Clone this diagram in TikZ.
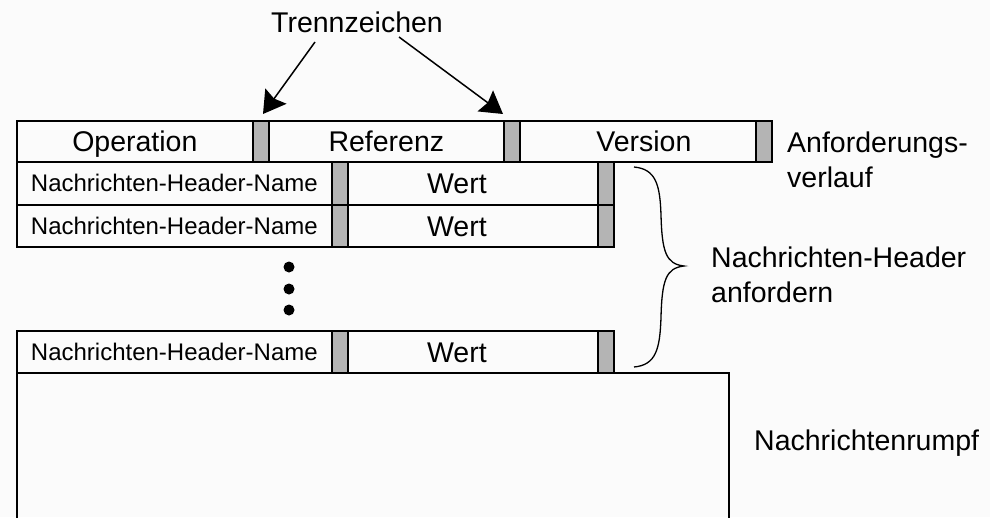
\documentclass[tikz,border=0pt]{standalone}
\usepackage{fontspec}
\setmainfont{Liberation Sans}
\usetikzlibrary{arrows.meta}
\definecolor{sepgray}{RGB}{180,180,180}
\definecolor{bgcol}{RGB}{251,251,251}
\newcommand\myfontbig{\fontsize{28.5}{35}\selectfont}
\newcommand\myfontsmall{\fontsize{24}{28}\selectfont}
\begin{document}
\begin{tikzpicture}[x=1pt,y=-1pt,
  cell/.style={draw=black, line width=1.7pt, inner sep=0pt, anchor=north west, font=\myfontbig, text height=20.5pt, text depth=0pt},
  namecell/.style={cell, font=\myfontsmall, minimum width=315pt, text height=17.2pt},
  wertcell/.style={cell, minimum width=250pt},
  sepbar/.style={draw=black, fill=sepgray, line width=1.7pt, inner sep=0pt, anchor=north west, minimum width=16pt},
  label/.style={inner sep=0pt, font=\myfontbig, align=left},
  arrowline/.style={line width=1.5pt, -{Stealth[length=22pt,width=26pt,inset=3pt]}},
  dotmark/.style={circle, fill=black, inner sep=0pt, minimum size=11pt},
  bracepath/.style={line width=1.3pt}]
\useasboundingbox (0,0) rectangle (990,517);
\clip (0,0) rectangle (990,517);
\fill[bgcol] (0,0) rectangle (990,517);

% request line
\node[cell, minimum width=236pt, minimum height=41pt] (op) at (16,120) {Operation};
\node[sepbar, minimum height=41pt] (s1) at (252,120) {};
\node[cell, minimum width=235pt, minimum height=41pt] (ref) at (268,120) {Referenz};
\node[sepbar, minimum height=41pt] (s2) at (503,120) {};
\node[cell, minimum width=236pt, minimum height=41pt] (ver) at (519,120) {Version\hspace*{-12pt}};
\node[sepbar, minimum height=41pt] (s3) at (755,120) {};

% header rows
\node[namecell, minimum height=43pt] (n1) at (16,161) {Nachrichten-Header-Name};
\node[sepbar, minimum height=43pt] (b1a) at (331,161) {};
\node[wertcell, minimum height=43pt] (w1) at (347,161) {Wert\hspace*{32pt}};
\node[sepbar, minimum height=43pt] (b1b) at (597,161) {};

\node[namecell, minimum height=42pt] (n2) at (16,204) {Nachrichten-Header-Name};
\node[sepbar, minimum height=42pt] (b2a) at (331,204) {};
\node[wertcell, minimum height=42pt] (w2) at (347,204) {Wert\hspace*{32pt}};
\node[sepbar, minimum height=42pt] (b2b) at (597,204) {};

\node[dotmark] (d1) at (289,267) {};
\node[dotmark] (d2) at (289,289) {};
\node[dotmark] (d3) at (289,310) {};

\node[namecell, minimum height=42pt] (n3) at (16,330) {Nachrichten-Header-Name};
\node[sepbar, minimum height=42pt] (b3a) at (331,330) {};
\node[wertcell, minimum height=42pt] (w3) at (347,330) {Wert\hspace*{32pt}};
\node[sepbar, minimum height=42pt] (b3b) at (597,330) {};

% body
\node[cell, minimum width=712pt, minimum height=220pt] (body) at (16,372) {};

% labels
\node[label, anchor=base] (tz) at (357,32) {Trennzeichen};
\node[label, anchor=base west] (anf) at (787,187) {Anforderungs-\\verlauf};
\node[label, anchor=base west] (nh) at (711,302) {Nachrichten-Header\\anfordern};
\node[label, anchor=base west] (rumpf) at (754,450) {Nachrichtenrumpf};

% arrows
\coordinate (a1s) at (315,42);
\coordinate (a1e) at (263,114);
\coordinate (a2s) at (399,37);
\coordinate (a2e) at (503,114);
\draw[arrowline] (a1s) -- (a1e);
\draw[arrowline] (a2s) -- (a2e);

% brace
\coordinate (brtop) at (634,167);
\coordinate (brtip) at (684,266);
\coordinate (brbot) at (634,367);
\draw[bracepath] (brtop) .. controls (656,169) and (660,185) .. (661,215)
  .. controls (662,252) and (666,264) .. (brtip)
  .. controls (666,268) and (662,280) .. (661,317)
  .. controls (660,349) and (656,365) .. (brbot);
\end{tikzpicture}
\end{document}
